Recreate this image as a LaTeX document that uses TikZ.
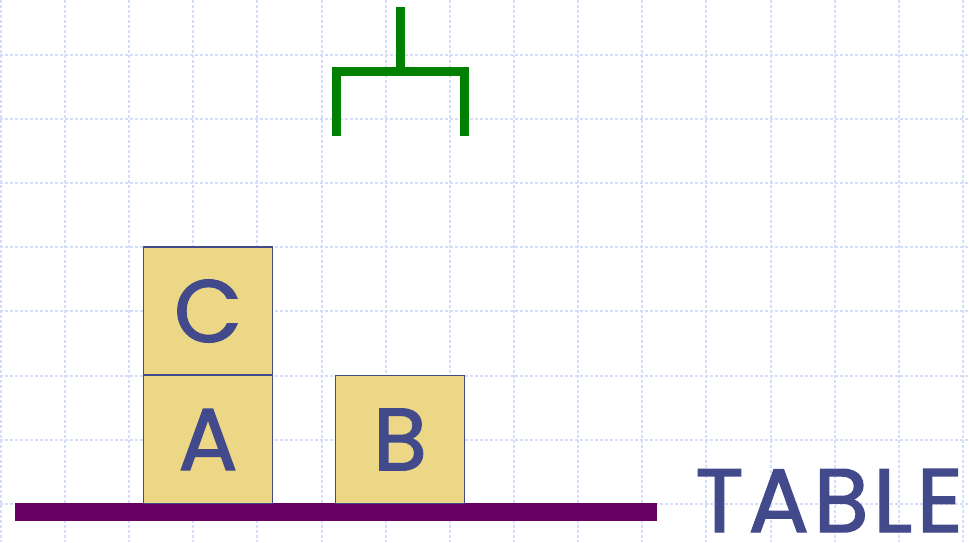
\documentclass[tikz,border=0pt]{standalone}
\usepackage{fontspec}
\setmainfont{Poppins}
\newfontfamily\labfont[FakeBold=1.6]{Poppins}
\newfontfamily\tabfont[FakeBold=1.6,LetterSpace=5]{Poppins}
\definecolor{gridblue}{HTML}{D4DEF8}
\definecolor{blockfill}{HTML}{EBD785}
\definecolor{blockline}{HTML}{424A8C}
\definecolor{tablepurple}{HTML}{660066}
\definecolor{clawgreen}{HTML}{008000}
\begin{document}
\begin{tikzpicture}[x=1pt,y=-1pt,
  gridline/.style={draw=gridblue,line width=2pt,dash pattern=on 3pt off 2pt},
  block/.style={draw=blockline,line width=1.5pt,fill=blockfill,minimum width=129pt,minimum height=128pt,inner sep=0pt,text=blockline,font=\labfont\fontsize{88}{88}\selectfont},
  claw/.style={draw=clawgreen,line width=9pt},
  tableline/.style={draw=tablepurple,line width=18pt},
  tablelabel/.style={text=blockline,font=\tabfont\fontsize{90}{90}\selectfont,inner sep=0pt}]
\useasboundingbox (0,0) rectangle (969,542);
\fill[white] (0,0) rectangle (969,542);
\foreach \k in {0,...,15} \draw[gridline] ({0.8+64.15*\k},0) -- ({0.8+64.15*\k},542);
\foreach \k in {0,...,7} \draw[gridline] (0,{55+64.1*\k}) -- (969,{55+64.1*\k});
% claw
\draw[claw] (400.5,7) -- (400.5,71);
\draw[claw] (336.5,136) -- (336.5,71) -- (464.5,71) -- (464.5,136);
% table
\coordinate (tl) at (15,511.5);
\coordinate (tr) at (657,511.5);
\draw[tableline] (tl) -- (tr);
% blocks
\node[block] (C) at (208,311) {C};
\node[block] (A) at (208,439.5) {A};
\node[block] (B) at (400,439.5) {B};
\node[tablelabel,anchor=base west] (T) at (695,532) {TABLE};
\end{tikzpicture}
\end{document}
